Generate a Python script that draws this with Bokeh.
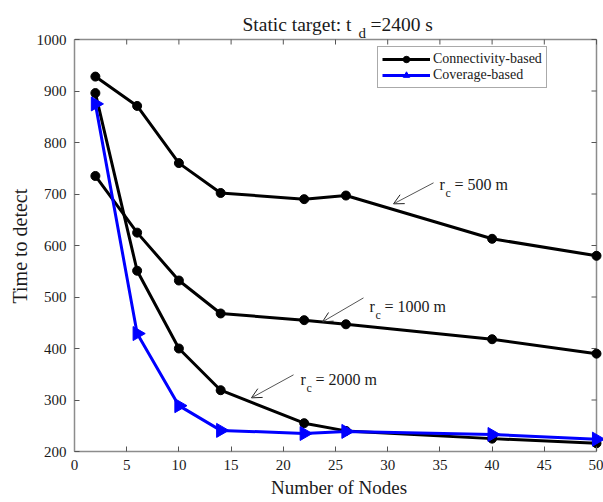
import numpy as np
from bokeh.plotting import figure
from bokeh.models import (Label, Arrow, OpenHead, Legend, LegendItem,
                          FixedTicker, Range1d, Title)
from bokeh.embed import file_html
from bokeh.resources import INLINE

# ---- data ----
nodes = [2, 6, 10, 14, 22, 26, 40, 50]
conn_rc500 = [928, 871, 760, 702, 690, 697, 613, 580]
conn_rc1000 = [735, 625, 532, 468, 455, 447, 418, 390]
conn_rc2000 = [896, 551, 400, 319, 255, 240, 225, 216]
coverage = [875, 429, 289, 241, 235, 239, 233, 224]
x_ticks = [0, 5, 10, 15, 20, 25, 30, 35, 40, 45, 50]
y_ticks = [200, 300, 400, 500, 600, 700, 800, 900, 1000]

FONT = "Liberation Serif"
TXT = "#1a1a1a"
AXC = "#8c8c8c"
TKC = "#555555"

# plot box: x 0..50 is 522 px wide, y 200..1000 is 412 px tall.
# The frame is extended 39 px upward (title) and 7 px to the right (unclipped markers).
Y_TOP = 1000 + 39 * 800 / 412
X_RIGHT = 50 + 7 * 50 / 522

p = figure(frame_width=529, frame_height=451, title=None,
           x_range=Range1d(0, X_RIGHT), y_range=Range1d(200, Y_TOP),
           output_backend="svg", toolbar_location=None,
           min_border_left=74, min_border_top=0, min_border_right=0, min_border_bottom=51)
p.outline_line_color = None
p.xgrid.grid_line_color = None
p.ygrid.grid_line_color = None
p.background_fill_color = "white"
p.border_fill_color = "white"

bottom_ax = p.below[0]
left_ax = p.left[0]
bottom_ax.bounds = (x_ticks[0], x_ticks[-1])
left_ax.bounds = (y_ticks[0], y_ticks[-1])
bottom_ax.ticker = FixedTicker(ticks=x_ticks)
left_ax.ticker = FixedTicker(ticks=y_ticks)

for ax in [bottom_ax, left_ax]:
    ax.axis_line_color = AXC
    ax.axis_line_width = 1.5
    ax.major_tick_line_color = TKC
    ax.major_tick_in = 5
    ax.major_tick_out = 0
    ax.minor_tick_line_color = None
    ax.major_label_text_font = FONT
    ax.major_label_text_font_size = "15px"
    ax.major_label_text_color = TXT
    ax.axis_label_text_font = FONT
    ax.axis_label_text_font_style = "normal"
    ax.axis_label_text_color = TXT

bottom_ax.axis_label = "Number of Nodes"
bottom_ax.axis_label_text_font_size = "19px"
bottom_ax.major_label_standoff = 8
bottom_ax.axis_label_standoff = 4
left_ax.major_label_standoff = 8

# y-axis label, centred on the 200..1000 box (not on the extended frame)
ylab = Title(text="Time to detect", align="left", offset=148, standoff=6,
             text_font=FONT, text_font_size="20px", text_font_style="normal",
             text_color=TXT)
p.add_layout(ylab, "left")

# top and right borders of the box, with inward ticks
x0, x1 = x_ticks[0], x_ticks[-1]
y0, y1 = y_ticks[0], y_ticks[-1]
p.segment(x0=[x0, x1], y0=[y1, y0], x1=[x1, x1], y1=[y1, y1],
          line_color=AXC, line_width=1.5)
p.ray(x=x_ticks, y=[y1] * len(x_ticks), length=5, length_units="screen",
      angle=-np.pi / 2, line_color=TKC, line_width=1)
p.ray(x=[x1] * len(y_ticks), y=y_ticks, length=5, length_units="screen",
      angle=np.pi, line_color=TKC, line_width=1)

# ---- series ----
lw = 3
r_lines = []
r_pts = []
for ys in [conn_rc500, conn_rc1000, conn_rc2000]:
    r_lines.append(p.line(nodes, ys, line_color="black", line_width=lw))
    r_pts.append(p.scatter(nodes, ys, marker="circle", size=9,
                           fill_color="black", line_color="black"))

cov_line = p.line(nodes, coverage, line_color="#0000ff", line_width=lw)
cov_pts = p.scatter(nodes, coverage, marker="triangle", size=14, angle=-np.pi / 2,
                    fill_color="#0000ff", line_color="#0000ff")

legend = Legend(items=[
    LegendItem(label="Connectivity-based", renderers=[r_lines[0], r_pts[0]]),
    LegendItem(label="Coverage-based", renderers=[cov_line, cov_pts]),
], location=(303, 363))
legend.border_line_color = TKC
legend.border_line_width = 1
legend.background_fill_color = "white"
legend.background_fill_alpha = 1.0
legend.label_text_font = FONT
legend.label_text_font_size = "14px"
legend.label_text_color = TXT
legend.glyph_width = 48
legend.glyph_height = 16
legend.label_height = 16
legend.spacing = 0
legend.padding = 4
legend.margin = 0
legend.label_standoff = 3
p.add_layout(legend)

# ---- title (with subscript) ----
def lab(x, y, text, size, dx=0, dy=0):
    p.add_layout(Label(x=x, y=y, x_offset=dx, y_offset=dy, text=text,
                       text_font=FONT, text_font_size=size, text_color=TXT,
                       text_baseline="alphabetic", text_align="left"))

lab(16.09, 1029.1, "Static target: t", "19.5px")
lab(16.09, 1029.1, "d", "15px", dx=116, dy=-8)
lab(16.09, 1029.1, "=2400 s", "19.5px", dx=128)

# ---- annotations r_c ----
annots = [
    ((34.96, 717.9), "= 500 m", (34.39, 721.7), (30.56, 680.9)),
    ((28.26, 480.6), "= 1000 m", (27.68, 498.3), (23.75, 451.7)),
    ((21.65, 339.2), "= 2000 m", (20.98, 348.9), (16.95, 304.2)),
]
for (ax_, ay_), txt, (xs, ys_), (xe, ye) in annots:
    lab(ax_, ay_, "r", "16px")
    lab(ax_, ay_, "c", "12px", dx=6, dy=-8)
    lab(ax_, ay_, txt, "16px", dx=15)
    p.add_layout(Arrow(end=OpenHead(size=10, line_width=1, line_color="#222222"),
                       x_start=xs, y_start=ys_, x_end=xe, y_end=ye,
                       line_width=1, line_color=TKC))

open("out.html", "w").write(file_html(p, INLINE))
